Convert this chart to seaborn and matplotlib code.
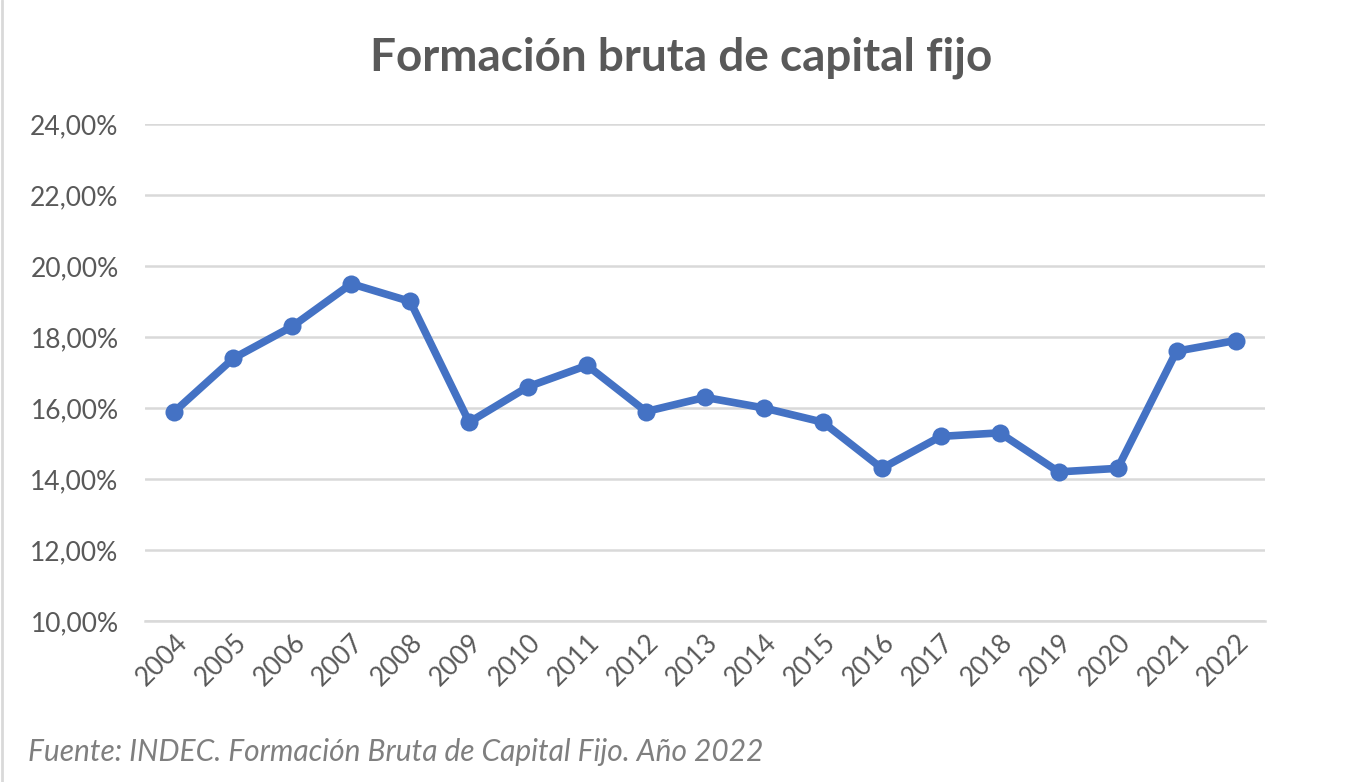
import matplotlib
matplotlib.use("Agg")
import matplotlib.pyplot as plt
import seaborn as sns
import pandas as pd
from matplotlib.ticker import FuncFormatter, MultipleLocator

years = ["2004", "2005", "2006", "2007", "2008", "2009", "2010", "2011", "2012", "2013",
         "2014", "2015", "2016", "2017", "2018", "2019", "2020", "2021", "2022"]
values = [15.9, 17.4, 18.3, 19.5, 19.0, 15.6, 16.6, 17.2, 15.9, 16.3,
          16.0, 15.6, 14.3, 15.2, 15.3, 14.2, 14.3, 17.6, 17.9]
title = "Formación bruta de capital fijo"
source = "Fuente: INDEC. Formación Bruta de Capital Fijo. Año 2022"

sns.set_theme(style="white")
plt.rcParams['font.family'] = ['Lato', 'DejaVu Sans']

df = pd.DataFrame({"year": years, "value": values})

fig = plt.figure(figsize=(13.62, 7.82), dpi=100)
ax = fig.add_axes([145/1362, 1 - 621/782, (1265 - 145)/1362, (621 - 124)/782])

sns.lineplot(data=df, x="year", y="value", ax=ax, color="#4472C4", linewidth=5.5,
             marker="o", markersize=13, markeredgewidth=0, sort=False)

ax.set_xlim(-0.5, len(years) - 0.5)
ax.set_ylim(10, 24)
ax.yaxis.set_major_locator(MultipleLocator(2))
ax.yaxis.set_major_formatter(FuncFormatter(lambda v, p: f"{v:.2f}".replace(".", ",") + "%"))
ax.grid(axis="y", color="#d9d9d9", linewidth=1.8)
ax.set_axisbelow(True)
for s in ["top", "right", "left"]:
    ax.spines[s].set_visible(False)
ax.spines["bottom"].set_color("#d9d9d9")
ax.spines["bottom"].set_linewidth(1.8)
ax.set_xlabel("")
ax.set_ylabel("")
ax.tick_params(axis="y", labelsize=19, labelcolor="#595959", length=0, pad=19)
ax.tick_params(axis="x", labelsize=19, labelcolor="#595959", length=0, pad=6)
for lab in ax.get_xticklabels():
    lab.set_rotation(45)
    lab.set_ha("right")
    lab.set_rotation_mode("anchor")

fig.text(0.5, 1 - 58/782, title, ha="center", va="center", fontsize=33,
         fontweight="bold", color="#595959")
fig.text(28/1362, 1 - 752/782, source, ha="left", va="center", fontsize=21.5,
         style="italic", color="#7f7f7f")

# outer frame line on the left
fig.add_artist(plt.Line2D([0.0015, 0.0015], [0, 1], color="#d9d9d9", linewidth=2,
                          transform=fig.transFigure))

fig.savefig("out.png", dpi=100)
